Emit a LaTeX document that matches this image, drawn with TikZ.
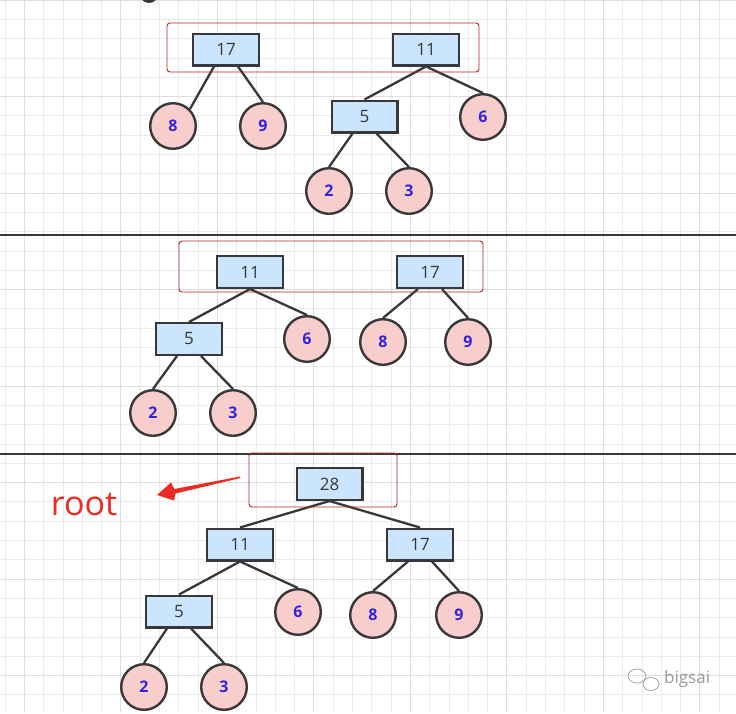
\documentclass[tikz,border=0pt]{standalone}
\usepackage{fontspec}
\setmainfont{Open Sans}
\definecolor{edgec}{HTML}{383838}
\definecolor{boxfill}{HTML}{CCE5FF}
\definecolor{circfill}{HTML}{F8CECC}
\definecolor{numblue}{HTML}{3322DD}
\definecolor{redbox}{HTML}{B52222}
\definecolor{gridc}{HTML}{EBEBEB}
\definecolor{gridmaj}{HTML}{DEDEDE}
\definecolor{arrowred}{HTML}{EE2A24}
\definecolor{wmark}{HTML}{9A9A9A}
\tikzset{
  boxnode/.style={draw=edgec, line width=2.4pt, fill=boxfill, minimum width=65.6pt, minimum height=31.6pt, inner sep=0pt, font=\fontsize{17}{17}\selectfont, text=edgec},
  leaf/.style={circle, draw=edgec, line width=2.4pt, fill=circfill, minimum size=45.6pt, inner sep=0pt, font=\bfseries\fontsize{16}{16}\selectfont, text=numblue},
  edge/.style={draw=edgec, line width=2.3pt},
  groupbox/.style={draw=redbox, line width=0.9pt, rounded corners=3pt},
  sepline/.style={draw=edgec, line width=2.6pt},
  gridline/.style={draw=gridc, line width=0.8pt},
  gridmajor/.style={draw=gridmaj, line width=0.9pt},
}
\begin{document}
\begin{tikzpicture}[x=1pt,y=-1pt]
\useasboundingbox (0,0) rectangle (736,713);
\begin{scope}
\clip (0,0) rectangle (736,713);
% grid
\foreach \i in {0,...,38} \draw[gridline] ({5+\i*19.3},0) -- ({5+\i*19.3},713);
\foreach \j in {0,...,37} \draw[gridline] (0,{\j*19.3}) -- (736,{\j*19.3});
\foreach \i in {0,...,7} \draw[gridmajor] ({24.3+\i*96.5},0) -- ({24.3+\i*96.5},713);
\foreach \j in {0,...,7} \draw[gridmajor] (0,{\j*96.5}) -- (736,{\j*96.5});
% partial shape at the top edge
\fill[edgec] (149,-8) ellipse (10pt and 11pt);
\end{scope}

% separators
\coordinate (s1l) at (0,235); \coordinate (s1r) at (736,235);
\coordinate (s2l) at (0,454); \coordinate (s2r) at (736,454);
\draw[sepline] (s1l) -- (s1r);
\draw[sepline] (s2l) -- (s2r);

% ---------- top section ----------
\node[boxnode] (t17) at (226,49.5) {17};
\node[boxnode] (t11) at (426,49.5) {11};
\node[boxnode] (t5) at (364.5,116.5) {5};
\node[leaf] (t8) at (173,126) {8};
\node[leaf] (t9) at (263,126) {9};
\node[leaf] (t6) at (483,117) {6};
\node[leaf] (t2) at (329,191) {2};
\node[leaf] (t3) at (409,191) {3};
\draw[edge] ([xshift=-12pt]t17.south) -- (t8.north east);
\draw[edge] ([xshift=12pt]t17.south) -- (t9.north);
\draw[edge] (t11.south) -- (t5.north);
\draw[edge] (t11.south) -- (t6.north);
\draw[edge] ([xshift=-12pt]t5.south) -- (t2.north);
\draw[edge] ([xshift=12pt]t5.south) -- (t3.north);
\draw[groupbox] (167,23) rectangle (479,72);

% ---------- middle section ----------
\node[boxnode] (m11) at (250,272) {11};
\node[boxnode] (m17) at (430,272) {17};
\node[boxnode] (m5) at (189,339) {5};
\node[leaf] (m6) at (307,339) {6};
\node[leaf] (m8) at (383,342) {8};
\node[leaf] (m9) at (468,342) {9};
\node[leaf] (m2) at (153,413) {2};
\node[leaf] (m3) at (233,413) {3};
\draw[edge] (m11.south) -- (m5.north);
\draw[edge] (m11.south) -- (m6.north);
\draw[edge] ([xshift=-12pt]m17.south) -- (m8.north);
\draw[edge] ([xshift=12pt]m17.south) -- (m9.north);
\draw[edge] ([xshift=-12pt]m5.south) -- (m2.north);
\draw[edge] ([xshift=12pt]m5.south) -- (m3.north);
\draw[groupbox] (179,241) rectangle (483,292);

% ---------- bottom section ----------
\node[boxnode] (b28) at (329.5,484) {28};
\node[boxnode] (b11) at (240,544.5) {11};
\node[boxnode] (b17) at (420,544.5) {17};
\node[boxnode] (b5) at (179,611.5) {5};
\node[leaf] (b6) at (298,612) {6};
\node[leaf] (b8) at (373,615) {8};
\node[leaf] (b9) at (459,615) {9};
\node[leaf] (b2) at (144,687) {2};
\node[leaf] (b3) at (224,687) {3};
\draw[edge] (b28.south) -- (b11.north);
\draw[edge] (b28.south) -- (b17.north);
\draw[edge] (b11.south) -- (b5.north);
\draw[edge] (b11.south) -- (b6.north);
\draw[edge] ([xshift=-12pt]b17.south) -- (b8.north);
\draw[edge] ([xshift=12pt]b17.south) -- (b9.north);
\draw[edge] ([xshift=-12pt]b5.south) -- (b2.north);
\draw[edge] ([xshift=12pt]b5.south) -- (b3.north);
\draw[groupbox] (249,453) rectangle (397,507);

% root label and arrow
\node[anchor=base, text=arrowred, font=\fontsize{34}{34}\selectfont, inner sep=0pt] (rootlbl) at (84,515) {root};
\coordinate (atail) at (240,476.5);
\coordinate (atip) at (157,495);
\fill[arrowred] (atail) -- (174.3,489) -- (171,482.5) -- (atip) -- (174,500.5) -- (175.5,493.5) -- (240.5,478) -- cycle;

% watermark
\draw[wmark, line width=0.7pt] (637,676) ellipse (9pt and 7pt);
\draw[wmark, line width=0.7pt, fill=white] (651,684) ellipse (8pt and 6.5pt);
\node[text=wmark, font=\fontsize{17}{17}\selectfont, anchor=west, inner sep=0pt] (wm) at (664,679) {bigsai};
\end{tikzpicture}
\end{document}
